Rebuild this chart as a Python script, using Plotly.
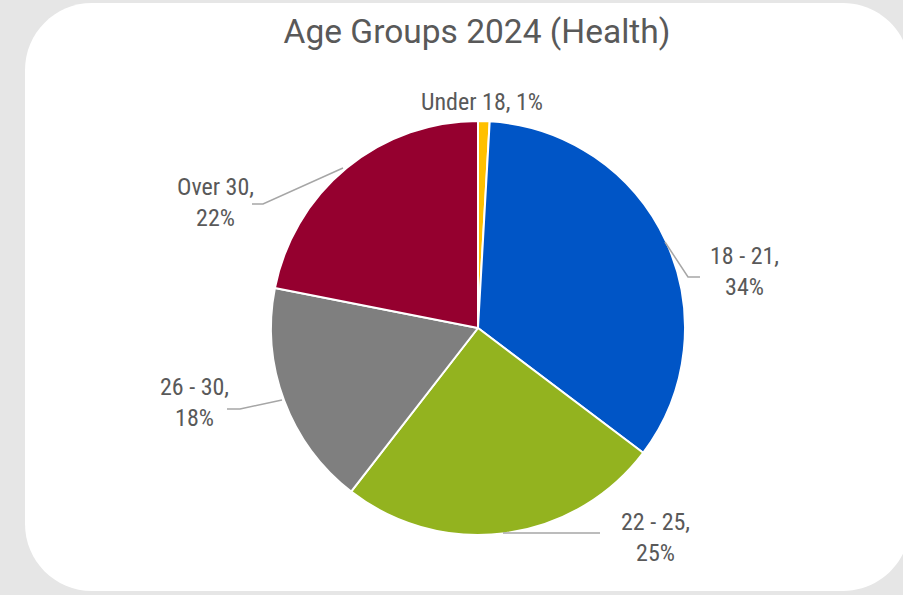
import plotly.graph_objects as go

# ---- data ----
categories = ["Under 18", "18 - 21", "22 - 25", "26 - 30", "Over 30"]
values = [0.9, 34.4, 25.2, 17.6, 21.9]
colors = ["#FFC000", "#0055C6", "#93B31F", "#7F7F7F", "#95002F"]
title_text = "Age Groups 2024 (Health)"

W, H = 903, 595


def px(x):
    return x / W


def py(y):
    return 1 - y / H


total = sum(values)
pcts = [round(v / total * 100) for v in values]

fig = go.Figure()
fig.add_trace(go.Pie(
    labels=categories,
    values=values,
    sort=False,
    direction="clockwise",
    rotation=0,
    marker=dict(colors=colors, line=dict(color="white", width=2)),
    textinfo="none",
    hoverinfo="label+percent",
    showlegend=False,
    domain=dict(x=[px(271), px(685)], y=[py(535), py(121)]),
))

# rounded white card
L, T, R, B, rad = 25, 3, 910, 591, 67
k = 0.5523 * rad


def P(x, y):
    return f"{px(x):.5f},{py(y):.5f}"


card = (
    f"M {P(L + rad, T)} L {P(R - rad, T)} "
    f"C {P(R - rad + k, T)} {P(R, T + rad - k)} {P(R, T + rad)} "
    f"L {P(R, B - rad)} "
    f"C {P(R, B - rad + k)} {P(R - rad + k, B)} {P(R - rad, B)} "
    f"L {P(L + rad, B)} "
    f"C {P(L + rad - k, B)} {P(L, B - rad + k)} {P(L, B - rad)} "
    f"L {P(L, T + rad)} "
    f"C {P(L, T + rad - k)} {P(L + rad - k, T)} {P(L + rad, T)} Z"
)
shapes = [dict(type="path", xref="paper", yref="paper", path=card,
               fillcolor="white", line=dict(width=0), layer="below")]

# leader lines (layout positions)
leaders = {
    "18 - 21": [(665, 242), (688, 277), (700, 277)],
    "22 - 25": [(503, 533), (600, 533)],
    "26 - 30": [(282, 400), (240, 409), (227, 409)],
    "Over 30": [(343, 168), (263, 204), (252, 204)],
}
for pts in leaders.values():
    path = "M " + " L ".join(P(x, y) for x, y in pts)
    shapes.append(dict(type="path", xref="paper", yref="paper", path=path,
                       line=dict(color="#A6A6A6", width=1.5)))

# label positions (layout)
label_pos = {
    "Under 18": (482, 102, False),
    "18 - 21": (744, 272, True),
    "22 - 25": (655, 537, True),
    "26 - 30": (194, 402, True),
    "Over 30": (215, 202, True),
}
label_font = dict(family="Liberation Sans Narrow, Arial Narrow, Roboto Condensed, DejaVu Sans Condensed",
                  size=24, color="#595959")
annotations = []
for cat, pct in zip(categories, pcts):
    x, y, br = label_pos[cat]
    txt = f"{cat},<br>{pct}%" if br else f"{cat}, {pct}%"
    annotations.append(dict(x=px(x), y=py(y), xref="paper", yref="paper",
                            text=txt, showarrow=False, xanchor="center",
                            yanchor="middle", align="center", font=label_font))

fig.update_layout(
    width=W, height=H,
    margin=dict(l=0, r=0, t=0, b=0),
    paper_bgcolor="#E6E6E6",
    plot_bgcolor="#E6E6E6",
    title=dict(text=title_text, x=px(477), y=py(31), xanchor="center",
               yanchor="middle",
               font=dict(family="Roboto", size=33.5, color="#595959")),
    shapes=shapes,
    annotations=annotations,
)

fig.write_html("out.html")
